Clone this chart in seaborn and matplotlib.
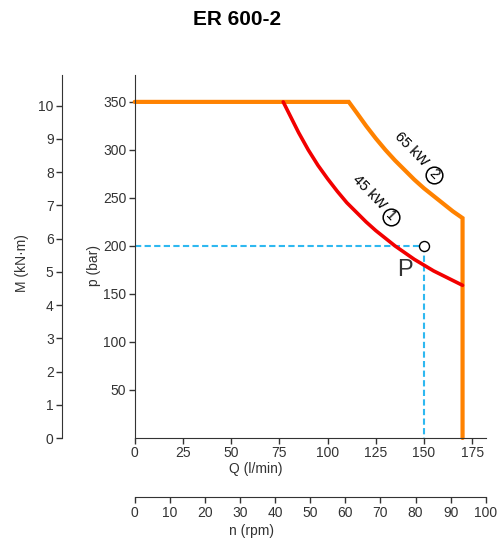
import numpy as np
import pandas as pd
import matplotlib
matplotlib.use("Agg")
import matplotlib.pyplot as plt
import seaborn as sns

# ── Data ──────────────────────────────────────────────────────────────────────
# outer envelope (max pressure, 65 kW hyperbola, max flow)
env_q = [0, 111, 115, 120, 125, 130, 135, 140, 145, 150, 155, 160, 165, 170, 170]
env_p = [350, 350, 339, 325, 312, 300, 289, 279, 269, 260, 252, 244, 236, 229, 0]

# 45 kW power curve
kw45_q = [77, 80, 85, 90, 95, 100, 105, 110, 115, 120, 125, 130, 135, 140,
          145, 150, 155, 160, 165, 170]
kw45_p = [350, 338, 318, 300, 284, 270, 257, 245, 235, 225, 216, 208, 200,
          193, 186, 180, 174, 169, 164, 159]

# operating point P
op_q = 150
op_p = 200

q_ticks = [0, 25, 50, 75, 100, 125, 150, 175]
p_ticks = [50, 100, 150, 200, 250, 300, 350]
m_ticks = list(range(0, 11))
n_ticks = list(range(0, 101, 10))

ORANGE = "#FF8200"
RED = "#F20000"
BLUE = "#2EB8F0"
DARK = "#333333"

sns.set_style("ticks")
plt.rcParams["font.family"] = ["Liberation Sans", "DejaVu Sans"]
plt.rcParams["axes.edgecolor"] = DARK
plt.rcParams["xtick.color"] = DARK
plt.rcParams["ytick.color"] = DARK
plt.rcParams["xtick.labelsize"] = 10
plt.rcParams["ytick.labelsize"] = 10

W, H = 503, 547
fig = plt.figure(figsize=(W / 100, H / 100), dpi=100)


def fx(px):
    return px / W


def fy(py):
    return 1 - py / H


left, right = 134.7, 485.7
bottom, top = 438, 75

# ── Main axes: p vs Q ─────────────────────────────────────────────────────────
ax = fig.add_axes([fx(left), fy(bottom), fx(right) - fx(left), fy(top) - fy(bottom)])
env = pd.DataFrame({"Q": env_q, "p": env_p})
kw45 = pd.DataFrame({"Q": kw45_q, "p": kw45_p})

ax.plot([0, op_q], [op_p, op_p], color=BLUE, lw=1.5, dashes=(3, 1.6))
ax.plot([op_q, op_q], [op_p, 0], color=BLUE, lw=1.5, dashes=(3, 1.6))
sns.lineplot(data=env, x="Q", y="p", sort=False, estimator=None, ax=ax,
             color=ORANGE, lw=3, solid_joinstyle="miter", clip_on=False)
sns.lineplot(data=kw45, x="Q", y="p", sort=False, estimator=None, ax=ax,
             color=RED, lw=2.6)
ax.plot([op_q], [op_p], "o", ms=7.2, mfc="white", mec="black", mew=1.0)
ax.text(140, 175, "P", fontsize=17, color=DARK, ha="center", va="center")

# curve labels with circled numbers
for txt, tq, tp, num, cq, cp in [("65 kW", 143.2, 300.5, "2", 155.2, 273.7),
                                 ("45 kW", 121.6, 255.5, "1", 132.7, 229.7)]:
    ax.text(tq, tp, txt, fontsize=10.5, rotation=-46, ha="center", va="center",
            rotation_mode="anchor", color="black")
    ax.plot([cq], [cp], "o", ms=12, mfc="none", mec="black", mew=1.1)
    ax.text(cq, cp + 1, num, fontsize=10, rotation=-46, ha="center", va="center",
            rotation_mode="anchor", color="black")

ax.set_xlim(0, 182)
ax.set_ylim(0, 378)
ax.set_xticks(q_ticks)
ax.set_yticks(p_ticks)
ax.set_xlabel("")
ax.set_ylabel("")
for s in ["top", "right"]:
    ax.spines[s].set_visible(False)
ax.tick_params(length=4, width=1, pad=2)
ax.patch.set_alpha(0)

# ── Torque axis M ─────────────────────────────────────────────────────────────
axm = fig.add_axes([fx(62), fy(bottom), 0.001, fy(top) - fy(bottom)])
axm.set_ylim(0, 10.92)
axm.set_yticks(m_ticks)
axm.set_xticks([])
for s in ["top", "right", "bottom"]:
    axm.spines[s].set_visible(False)
axm.tick_params(length=4, width=1, pad=2)
axm.patch.set_alpha(0)

# ── Speed axis n ──────────────────────────────────────────────────────────────
axn = fig.add_axes([fx(left), fy(497.3), fx(right) - fx(left), 0.001])
axn.set_xlim(0, 100)
axn.set_xticks(n_ticks)
axn.set_yticks([])
for s in ["top", "right", "left"]:
    axn.spines[s].set_visible(False)
axn.tick_params(length=4, width=1, pad=2)
axn.patch.set_alpha(0)

# ── Labels ────────────────────────────────────────────────────────────────────
fig.text(fx(237.5), fy(19.5), "ER 600-2", fontsize=15, fontweight="bold",
         ha="center", va="center", color="black")
fig.text(fx(256), fy(469), "Q (l/min)", fontsize=10, ha="center", va="center", color=DARK)
fig.text(fx(252), fy(531), "n (rpm)", fontsize=10, ha="center", va="center", color=DARK)
fig.text(fx(94), fy(265), "p (bar)", fontsize=10, rotation=90, ha="center",
         va="center", color=DARK)
fig.text(fx(22), fy(263), "M (kN·m)", fontsize=10, rotation=90, ha="center",
         va="center", color=DARK)

fig.savefig("out.png", dpi=100)
